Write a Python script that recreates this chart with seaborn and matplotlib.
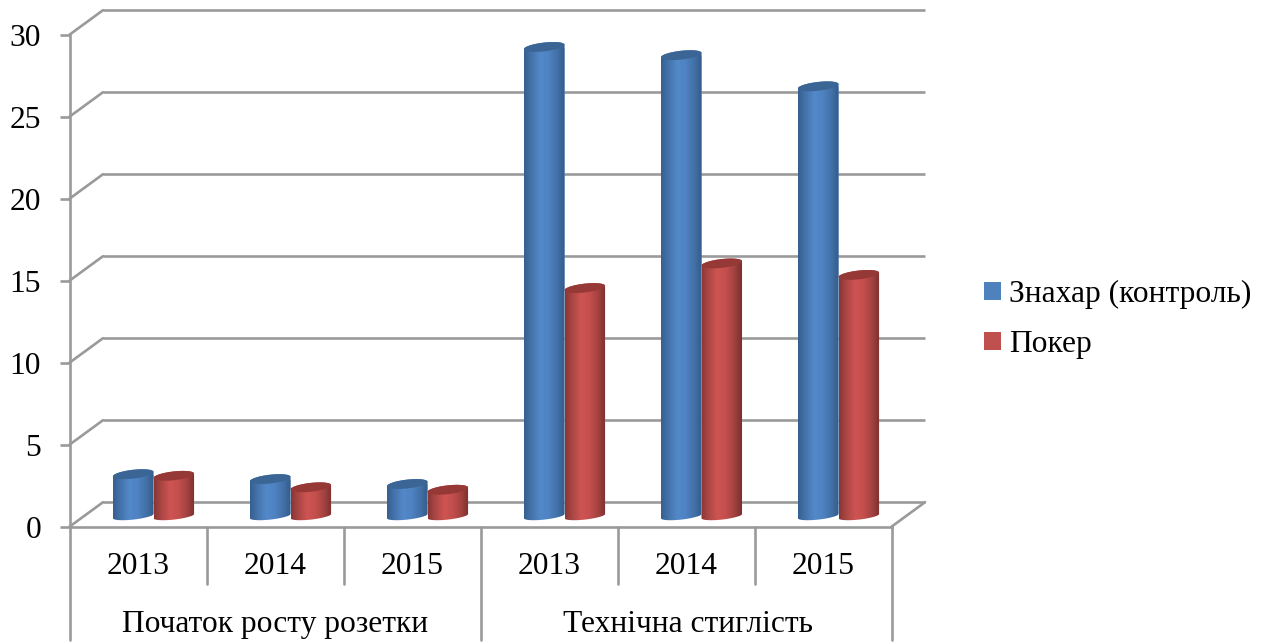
import numpy as np
import pandas as pd
import matplotlib
matplotlib.use("Agg")
import matplotlib.pyplot as plt
import seaborn as sns
from matplotlib.colors import LinearSegmentedColormap, to_hex
from matplotlib.lines import Line2D
from matplotlib.patches import Patch, PathPatch
from matplotlib.path import Path
from matplotlib.transforms import IdentityTransform

# Chart data
stages = ["Початок росту розетки", "Технічна стиглість"]
years = ["2013", "2014", "2015", "2013", "2014", "2015"]
series_names = ["Знахар (контроль)", "Покер"]
znakhar = [2.55, 2.25, 1.95, 28.6, 28.1, 26.2]
poker = [2.45, 1.75, 1.6, 13.9, 15.4, 14.7]
y_ticks = [0, 5, 10, 15, 20, 25, 30]

W, H = 1263, 644
sns.set_theme(style="white")
plt.rcParams["font.family"] = ["Liberation Serif", "DejaVu Serif"]
FS = 22.7
GRID = "#9A9A9A"
LW = 1.9

fig = plt.figure(figsize=(W / 100, H / 100), dpi=100, facecolor="white")


def axes_px(left, right, top, bottom):
    """Axes rectangle given in pixels measured from the top-left corner."""
    return fig.add_axes([left / W, 1 - bottom / H, (right - left) / W, (bottom - top) / H])


FX0, FX1, FY0, FY30 = 69.5, 891.5, 526.7, 34.7  # front plane of the box
DX, DY = 33.5, 24.5                             # depth of the box
BX, BY = 15.5, 10.7                             # where the columns stand inside it
PX_PER_UNIT = (FY0 - FY30) / 30

# Back wall with the horizontal grid lines
ax_back = axes_px(FX0 + DX, FX1 + DX, FY30 - DY, FY0 - DY)
ax_back.set(xlim=(-0.5, 5.5), ylim=(0, 30), xticks=[], yticks=[])
ax_back.axis("off")
ax_back.hlines(y_ticks, -0.5, 5.5, color=GRID, lw=LW, clip_on=False)

# Front plane: value axis and the two-level category axis
ax = axes_px(FX0, FX1, FY30, FY0)
ax.patch.set_alpha(0)
ax.set(xlim=(-0.5, 5.5), ylim=(0, 30))
for name, spine in ax.spines.items():
    spine.set_visible(name in ("left", "bottom"))
    spine.set_color(GRID)
    spine.set_linewidth(LW)
ax.set_yticks(y_ticks)
ax.tick_params(axis="y", length=7.5, width=LW, color=GRID, labelsize=FS, pad=13,
               labelcolor="black", left=True)
ax.set_xticks([])

xform = ax.get_xaxis_transform()
for edge in [0.5, 1.5, 3.5, 4.5]:
    ax.plot([edge, edge], [0, -57 / 492], transform=xform, color=GRID, lw=LW, clip_on=False)
for edge in [-0.5, 2.5, 5.5]:
    ax.plot([edge, edge], [0, -113 / 492], transform=xform, color=GRID, lw=LW, clip_on=False)
for i, year in enumerate(years):
    ax.text(i, -40 / 492, year, transform=xform, ha="center", va="center", fontsize=FS, color="black")
for centre, stage in zip([0.998, 4.012], stages):
    ax.text(centre, -97.5 / 492, stage, transform=xform, ha="center", va="center",
            fontsize=FS, color="black")

# Depth edges joining the front plane to the back wall
fig.canvas.draw()
ident = IdentityTransform()
for tick in y_ticks:
    px, py = ax.transData.transform((-0.5, tick))
    fig.add_artist(Line2D([px, px + DX], [py, py + DY], transform=ident, color=GRID, lw=LW))
px, py = ax.transData.transform((5.5, 0))
fig.add_artist(Line2D([px, px + DX], [py, py + DY], transform=ident, color=GRID, lw=LW))

# Columns; the value axis starts one unit below zero so the rounded bases are not cut off
ax_bar = axes_px(FX0 + BX, FX1 + BX, FY30 - BY, FY0 - BY + PX_PER_UNIT)
ax_bar.patch.set_alpha(0)
frame = pd.DataFrame({
    "slot": list(range(6)) * 2,
    "series": [series_names[0]] * 6 + [series_names[1]] * 6,
    "value": znakhar + poker,
})
palette = {series_names[0]: "#4F81BD", series_names[1]: "#C0504D"}
sns.barplot(data=frame, x="slot", y="value", hue="series", hue_order=series_names,
            palette=palette, width=0.592, gap=0, saturation=1, legend=False, ax=ax_bar)
ax_bar.set(xlim=(-0.5, 5.5), ylim=(-1, 30), xlabel="", ylabel="", xticks=[], yticks=[])
ax_bar.axis("off")

shades = {
    "#4F81BD": (["#365F8F", "#4675AE", "#5389C9", "#4F83C3", "#4472AA", "#335C8A"], "#3A6595"),
    "#C0504D": (["#8A3735", "#AE4846", "#CE5452", "#C44F4D", "#A54341", "#7A302E"], "#953836"),
}
theta = np.linspace(0, 2 * np.pi, 73)
TILT, CAP_B, BASE_B = 2.2, 4.4, 3.6


def rim(cx, cy, half, b, angles):
    """Points of a slightly tilted ellipse, with pixel-sized radii, in data units."""
    return (cx + half * np.cos(angles),
            cy + (b * np.sin(angles) + TILT * np.cos(angles)) / PX_PER_UNIT)


for idx, bar in enumerate(ax_bar.patches):
    x0, w, v = bar.get_x(), bar.get_width(), bar.get_height()
    cx, half = x0 + w / 2, w / 2
    stops, cap = shades[to_hex(bar.get_facecolor()).upper()]
    z = 3 + idx % 6 * 3 + (idx >= 6)

    # Outline: lower half of the base ellipse, then back over the upper half of the top one
    bx, by = rim(cx, 0, half, BASE_B, np.linspace(np.pi, 2 * np.pi, 37))
    tx, ty = rim(cx, v, half, CAP_B, np.linspace(0, np.pi, 37))
    outline = np.column_stack([np.r_[bx, tx], np.r_[by, ty]])
    clip = PathPatch(Path(np.vstack([outline, outline[0]]), closed=True),
                     transform=ax_bar.transData, fc="none", ec="none")
    ax_bar.add_patch(clip)

    bar.set_zorder(z)
    bar.set_clip_path(clip)
    ramp = LinearSegmentedColormap.from_list("cyl", stops)(np.linspace(0, 1, 128))[None, :, :3]
    img = ax_bar.imshow(ramp, extent=(x0, x0 + w, -0.9, v + 1), aspect="auto",
                        interpolation="bilinear", zorder=z + 0.5, origin="lower")
    img.set_clip_path(clip)

    ex, ey = rim(cx, v, half, CAP_B, theta)
    ax_bar.fill(ex, ey, color=cap, lw=0, zorder=z + 0.8)

ax_bar.set(xlim=(-0.5, 5.5), ylim=(-1, 30))

# Legend
handles = [Patch(facecolor=palette[n], edgecolor="none", label=n) for n in series_names]
fig.legend(handles=handles, loc="center left", bbox_to_anchor=(978 / W, 1 - 319.5 / H),
           bbox_transform=fig.transFigure, frameon=False, fontsize=FS, labelcolor="black",
           handlelength=0.52, handleheight=0.52, handletextpad=0.26, labelspacing=0.66,
           borderpad=0.2, borderaxespad=0)

fig.savefig("out.png", dpi=100, facecolor="white")
